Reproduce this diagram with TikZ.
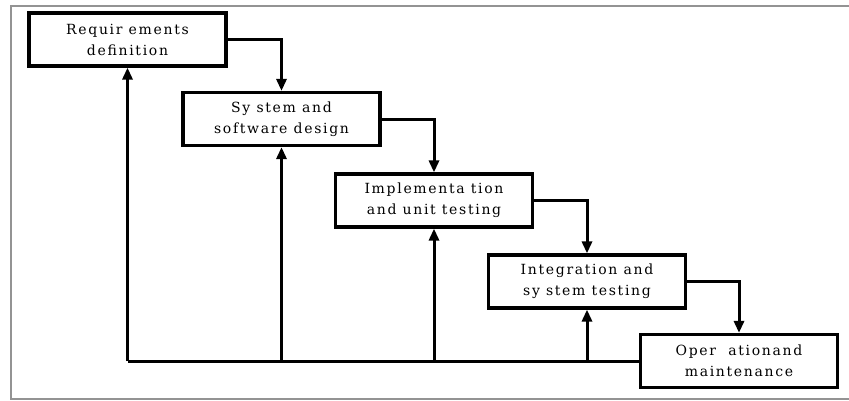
\documentclass[tikz,border=0pt]{standalone}
\usepackage{fontspec}
\setmainfont{DejaVu Serif}[LetterSpace=12]
\usetikzlibrary{arrows.meta}
\begin{document}
\begin{tikzpicture}[x=1pt,y=-1pt,
  stagebox/.style={draw=black, line width=3.2pt, fill=white, minimum width=197pt, minimum height=53pt,
    align=center, inner sep=0pt, font=\fontsize{14}{21}\selectfont},
  flow/.style={line width=3pt, line join=miter, -{Triangle[length=12pt,width=10pt]}},
  feed/.style={line width=3pt, line join=miter}]
\useasboundingbox (0,0) rectangle (849,400);
\draw[line width=1.6pt, gray!85] (849,6) -- (11,6) -- (11,399) -- (849,399);
\node[stagebox] (b1) at (127.5,39.5) {Requir ements\\definition};
\node[stagebox] (b2) at (281.5,119) {Sy stem and\\software design};
\node[stagebox] (b3) at (434,200.5) {Implementa tion\\and unit testing};
\node[stagebox] (b4) at (587,281.5) {Integration and\\sy stem testing};
\node[stagebox] (b5) at (739,361) {Oper\ \ ationand\\maintenance};
\draw[flow] (b1.east) -| (b2.north);
\draw[flow] (b2.east) -| (b3.north);
\draw[flow] (b3.east) -| (b4.north);
\draw[flow] (b4.east) -| (b5.north);
\coordinate (c1) at (b1 |- b5.west);
\coordinate (c2) at (b2 |- b5.west);
\coordinate (c3) at (b3 |- b5.west);
\coordinate (c4) at (b4 |- b5.west);
\draw[feed] (b5.west) -- (c1);
\draw[flow] (c1) -- (b1.south);
\draw[flow] (c2) -- (b2.south);
\draw[flow] (c3) -- (b3.south);
\draw[flow] (c4) -- (b4.south);
\end{tikzpicture}
\end{document}
